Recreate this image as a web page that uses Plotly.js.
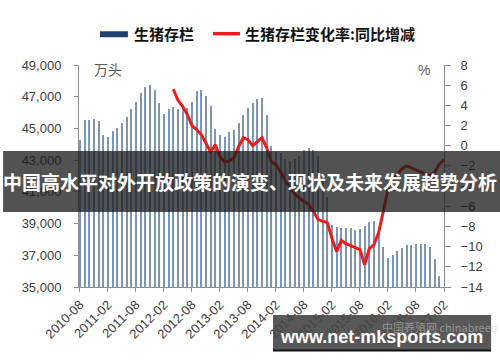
<!DOCTYPE html>
<html>
<head>
<meta charset="utf-8">
<script src="https://cdn.plot.ly/plotly-3.0.1.min.js"></script>
<style>
  html, body { margin: 0; padding: 0; background: #ffffff; }
  #chart { width: 500px; height: 362px; }
</style>
</head>
<body>
<div id="chart"></div>
<script>
// Monthly categories 2010-08 .. 2017-02
const months = [];
for (let y = 2010, m = 8; y < 2017 || (y === 2017 && m <= 2); m++) {
  if (m > 12) { m = 1; y++; }
  if (y === 2017 && m > 2) break;
  months.push(y + '-' + String(m).padStart(2, '0'));
}

const tickLabels = ['2010-08','2011-02','2011-08','2012-02','2012-08','2013-02','2013-08',
                    '2014-02','2014-08','2015-02','2015-08','2016-02','2016-08','2017-02'];

// 生猪存栏 (万头), 2010-08 .. 2017-01
const hogStock = [
  44280, 45540, 45540, 45600, 45480, 44590, 44470, 44840, 45030, 45350,
  45730, 46230, 46670, 47240, 47620, 47750, 47430, 46610, 45920, 46230,
  46360, 46230, 46300, 46300, 46670, 47370, 47430, 47050, 46420, 44970,
  44600, 44470, 44780, 44900, 45350, 45850, 46300, 46610, 46860, 46930,
  45850, 43900, 43520, 43450, 43080, 42970, 43080, 43270, 43650, 43750,
  43640, 43240, 42190, 40680, 38910, 38790, 38720, 38740, 38720, 38600,
  38660, 38820, 39120, 39180, 38500, 37550, 36830, 37020, 37240, 37460,
  37650, 37650, 37710, 37740, 37710, 37520, 36770, 35690, null
];

// 生猪存栏变化率:同比增减 (%), 2010-08 .. 2017-02
const yoyChange = [
  null, null, null, null, null, null, null, null, null, null,
  null, null, null, null, null, null, null, null, null, null,
  5.6, 4.5, 3.9, 3.1, 2.0, 1.6, 1.1, 0.3, -0.6, 0.1,
  -1.1, -1.6, -1.5, -1.2, -0.1, 0.8, 0.6, 0.0, 0.4, 0.8,
  -0.2, -1.6, -1.9, -2.6, -3.5, -4.2, -4.8, -5.2, -5.5, -5.8,
  -6.5, -7.3, -7.5, -7.6, -9.2, -10.5, -9.4, -9.7, -9.9, -10.1,
  -10.3, -11.8, -10.2, -9.8, -8.6, -6.5, -4.3, -3.3, -2.8, -2.3,
  -2.0, -2.2, -2.4, -2.6, -2.8, -3.0, -2.6, -1.8, -1.4
];

const seriesNames = ['生猪存栏', '生猪存栏变化率:同比增减'];
const titleText = '中国高水平对外开放政策的演变、现状及未来发展趋势分析';
const siteText = 'www.net-mksports.com';

const axisGray = '#8c8c8c';
const tickFont = { family: 'Liberation Sans, Arial, sans-serif', size: 13, color: '#404040' };
const cjk = 'Noto Sans CJK SC, sans-serif';

const traces = [
  {
    type: 'bar', name: seriesNames[0], x: months, y: hogStock,
    marker: { color: '#7f95b6', line: { width: 0 } },
    width: 0.4, yaxis: 'y', showlegend: false, hoverinfo: 'skip'
  },
  {
    type: 'scatter', mode: 'lines', name: seriesNames[1], x: months, y: yoyChange,
    line: { color: '#ec1c1c', width: 3 }, yaxis: 'y2', showlegend: false,
    connectgaps: false, hoverinfo: 'skip'
  }
];

const layout = {
  width: 500, height: 362,
  margin: { l: 79, r: 56, t: 65, b: 75 },
  paper_bgcolor: '#ffffff', plot_bgcolor: '#ffffff',
  bargap: 0,
  xaxis: {
    type: 'category', range: [-0.2, 78],
    tickmode: 'array', tickvals: tickLabels, ticktext: tickLabels,
    tickangle: -45, tickfont: tickFont,
    showline: true, linecolor: axisGray, linewidth: 1,
    ticks: 'outside', ticklen: 4, tickcolor: axisGray,
    showgrid: false, zeroline: false, fixedrange: true
  },
  yaxis: {
    range: [35000, 49000], tick0: 35000, dtick: 2000, tickformat: ',d',
    tickfont: tickFont, showline: true, linecolor: axisGray, linewidth: 1,
    ticks: 'outside', ticklen: 4, tickcolor: axisGray, ticklabelstandoff: 10,
    showgrid: false, zeroline: false, fixedrange: true
  },
  yaxis2: {
    overlaying: 'y', side: 'right',
    range: [-14, 8], tick0: -14, dtick: 2,
    tickfont: tickFont, showline: true, linecolor: axisGray, linewidth: 1,
    ticks: 'outside', ticklen: 6, tickcolor: axisGray, ticklabelstandoff: 7,
    showgrid: false, zeroline: false, fixedrange: true
  },
  shapes: [
    // custom legend swatches
    { type: 'rect', xref: 'paper', yref: 'paper', x0: 0.0575, x1: 0.134, y0: 1.125, y1: 1.152,
      fillcolor: '#1f3f73', line: { width: 0 } },
    { type: 'line', xref: 'paper', yref: 'paper', x0: 0.367, x1: 0.441, y0: 1.141, y1: 1.141,
      line: { color: '#ec1c1c', width: 3.5 } },
    // title banner
    { type: 'rect', xref: 'paper', yref: 'paper', layer: 'above',
      x0: -0.208, x1: 1.16, y0: 0.338, y1: 0.613,
      fillcolor: 'rgba(28,28,28,0.76)', line: { width: 0 } },
    // watermark banner
    { type: 'rect', xref: 'paper', yref: 'paper', layer: 'above',
      x0: 0.5315, x1: 1.129, y0: -0.284, y1: -0.126,
      fillcolor: 'rgba(70,70,70,0.9)', line: { width: 0 } },
    { type: 'line', xref: 'paper', yref: 'paper', layer: 'above',
      x0: 0.5315, x1: 1.129, y0: -0.286, y1: -0.286,
      line: { color: '#111111', width: 2 } }
  ],
  annotations: [
    { xref: 'paper', yref: 'paper', x: 0.145, y: 1.14, xanchor: 'left', yanchor: 'middle',
      text: '<b>' + seriesNames[0] + '</b>', showarrow: false,
      font: { family: cjk, size: 15, color: '#111111' } },
    { xref: 'paper', yref: 'paper', x: 0.449, y: 1.14, xanchor: 'left', yanchor: 'middle',
      text: '<b>' + seriesNames[1] + '</b>', showarrow: false,
      font: { family: cjk, size: 15, color: '#111111' } },
    { xref: 'paper', yref: 'paper', x: 0.036, y: 0.982, xanchor: 'left', yanchor: 'middle',
      text: '万头', showarrow: false, font: { family: cjk, size: 14, color: '#595959' } },
    { xref: 'paper', yref: 'paper', x: 0.945, y: 0.977, xanchor: 'center', yanchor: 'middle',
      text: '%', showarrow: false, font: { family: 'Liberation Sans, Arial', size: 14, color: '#595959' } },
    { xref: 'paper', yref: 'paper', x: 0.4685, y: 0.474, xanchor: 'center', yanchor: 'middle',
      text: '<b>' + titleText + '</b>', showarrow: false,
      font: { family: cjk, size: 19, color: '#ffffff' } },
    { xref: 'paper', yref: 'paper', x: 0.99, y: -0.178, xanchor: 'center', yanchor: 'middle',
      text: '中国养殖网 chinabreed', showarrow: false,
      font: { family: cjk, size: 11, color: 'rgba(200,200,200,0.55)' } },
    { xref: 'paper', yref: 'paper', x: 0.829, y: -0.227, xanchor: 'center', yanchor: 'middle',
      text: '<b>' + siteText + '</b>', showarrow: false,
      font: { family: 'Liberation Sans, Arial, sans-serif', size: 18, color: '#ffffff' } }
  ]
};

Plotly.newPlot('chart', traces, layout, { staticPlot: true, displayModeBar: false });
</script>
</body>
</html>
